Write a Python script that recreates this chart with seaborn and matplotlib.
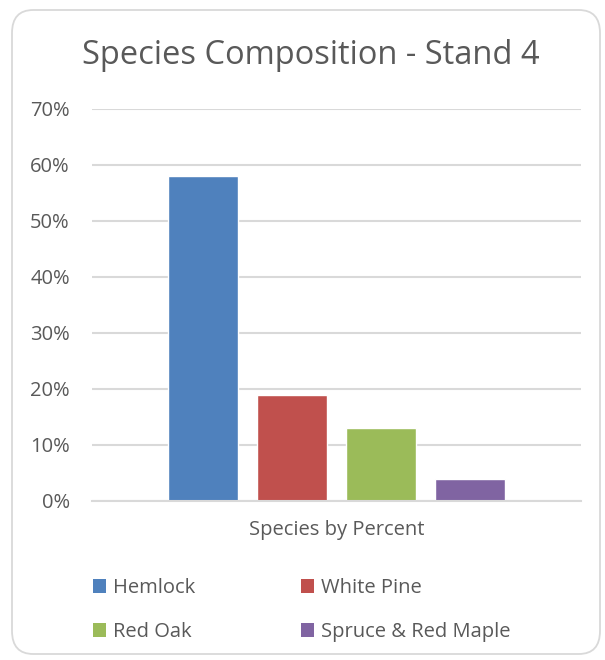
import matplotlib
matplotlib.use("Agg")
import matplotlib.pyplot as plt
from matplotlib.patches import FancyBboxPatch, Patch
from matplotlib.ticker import FuncFormatter, MultipleLocator
import seaborn as sns
import pandas as pd

# Stand 4 species composition
species = ["Hemlock", "White Pine", "Red Oak", "Spruce & Red Maple"]
percent = [58, 19, 13, 4]
group_label = "Species by Percent"
colors = ["#4f81bd", "#c0504d", "#9bbb59", "#8064a2"]

sns.set_theme(style="white")
plt.rcParams["font.family"] = ["Open Sans", "DejaVu Sans"]
text_color = "#595959"

df = pd.DataFrame({
    "group": [group_label] * len(species),
    "species": species,
    "percent": percent,
})

fig = plt.figure(figsize=(6.05, 6.6), dpi=100)
ax = fig.add_axes([92 / 605, 1 - 501 / 660, 489 / 605, 392 / 660])

sns.barplot(data=df, x="group", y="percent", hue="species",
            hue_order=species, palette=colors, width=0.728, gap=0.213,
            saturation=1, legend=False, ax=ax)

ax.set_xlim(-0.5, 0.5)
ax.set_ylim(0, 70)
ax.yaxis.set_major_locator(MultipleLocator(10))
ax.yaxis.set_major_formatter(FuncFormatter(lambda v, _: f"{v:.0f}%"))
ax.grid(axis="y", color="#d9d9d9", linewidth=1.5)
ax.set_axisbelow(True)
for side in ["top", "right", "left"]:
    ax.spines[side].set_visible(False)
ax.spines["bottom"].set_color("#d9d9d9")
ax.spines["bottom"].set_linewidth(1.5)
ax.tick_params(axis="y", length=0, pad=16, labelsize=14.5, labelcolor=text_color)
ax.tick_params(axis="x", length=0, pad=14, labelsize=14.5, labelcolor=text_color)
ax.set_xlabel("")
ax.set_ylabel("")

fig.text(311 / 605, 1 - 55 / 660, "Species Composition - Stand 4",
         ha="center", va="center", fontsize=23.5, color=text_color)

# two-column legend filled row by row
order = [0, 2, 1, 3]
handles = [Patch(facecolor=colors[i], edgecolor="none") for i in order]
labels = [species[i] for i in order]
fig.legend(handles, labels, ncol=2, loc="upper left",
           bbox_to_anchor=(75 / 605, 1 - 560 / 660), frameon=False,
           fontsize=14.5, labelcolor=text_color, handlelength=0.65,
           handleheight=0.65, handletextpad=0.35, columnspacing=5.25,
           labelspacing=1.2)

border = FancyBboxPatch((12 / 605, 6 / 660), 588 / 605, 644 / 660,
                        boxstyle="round,pad=0,rounding_size=0.035",
                        transform=fig.transFigure, facecolor="none",
                        edgecolor="#d9d9d9", linewidth=1.3)
fig.patches.append(border)

fig.savefig("out.png", dpi=100)
